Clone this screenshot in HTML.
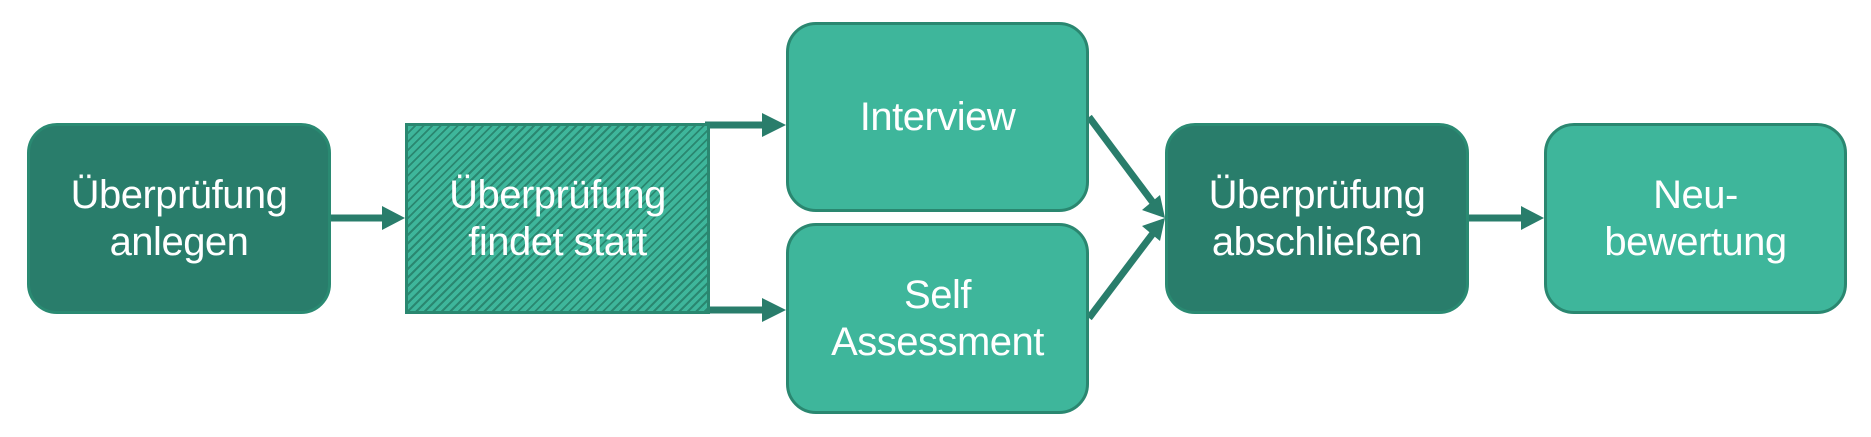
<!DOCTYPE html>
<html><head><meta charset="utf-8"><style>
body{margin:0;background:#fff;width:1871px;height:437px;overflow:hidden;position:relative;font-family:"Liberation Sans",sans-serif}
.b{position:absolute;box-sizing:border-box;border:3px solid #2a8770;border-radius:30px;display:flex;align-items:center;justify-content:center;text-align:center;color:#fff;font-size:40px;line-height:47px;letter-spacing:-0.5px}
.d{background:#297d6b;border-color:#2a8a72}
.l{background:#3eb69b}
.h{border-radius:0;background:repeating-linear-gradient(135deg,#3eb69b 0 4px,#2a8770 4px 6px)}
svg{position:absolute;left:0;top:0}
</style></head><body>
<svg width="1871" height="437">
<g stroke="#297d6b" stroke-width="7" fill="#297d6b">
<line x1="331" y1="218" x2="385" y2="218"/><polygon points="382,206 405,218 382,230" stroke="none"/>
<line x1="705" y1="125" x2="765" y2="125"/><polygon points="762,113 786,125 762,137" stroke="none"/>
<line x1="705" y1="310" x2="765" y2="310"/><polygon points="762,298 786,310 762,322" stroke="none"/>
<line x1="1089" y1="117" x2="1154" y2="204"/><polygon points="1142,210 1165,218 1160,195" stroke="none"/>
<line x1="1089" y1="318" x2="1154" y2="232"/><polygon points="1142,226 1165,218 1160,241" stroke="none"/>
<line x1="1469" y1="218" x2="1525" y2="218"/><polygon points="1521,206 1544,218 1521,230" stroke="none"/>
</g></svg>
<div class="b d" style="left:27px;top:123px;width:304px;height:191px">Überprüfung<br>anlegen</div>
<div class="b h" style="left:405px;top:123px;width:305px;height:191px">Überprüfung<br>findet statt</div>
<div class="b l" style="left:786px;top:22px;width:303px;height:190px">Interview</div>
<div class="b l" style="left:786px;top:223px;width:303px;height:191px">Self<br>Assessment</div>
<div class="b d" style="left:1165px;top:123px;width:304px;height:191px">Überprüfung<br>abschließen</div>
<div class="b l" style="left:1544px;top:123px;width:303px;height:191px">Neu-<br>bewertung</div>
</body></html>
